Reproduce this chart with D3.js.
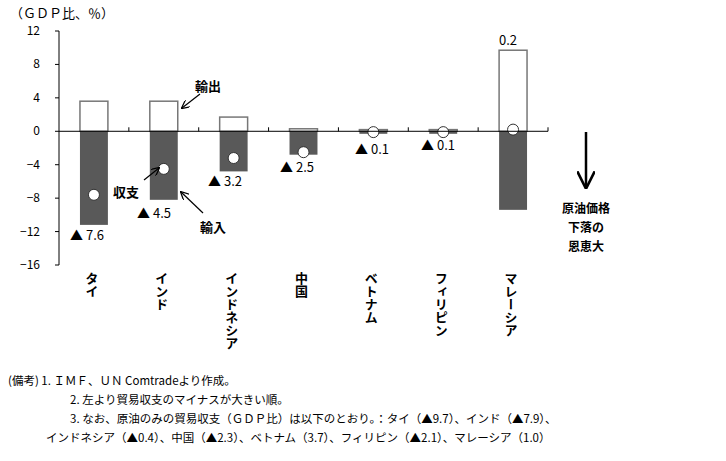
<!DOCTYPE html><html><head><meta charset="utf-8"><script src="https://cdn.jsdelivr.net/npm/d3@7"></script>
<style>body{margin:0;background:#fff}text{font-family:"Noto Sans CJK JP",sans-serif}</style></head><body><svg id="c" width="726" height="461"></svg><script>
const categories=["タイ","インド","インドネシア","中国","ベトナム","フィリピン","マレーシア"];
const exportsV=[3.6,3.6,1.7,0.3,0.2,0.2,9.7];
const importsV=[-11.2,-8.2,-4.8,-2.8,-0.3,-0.3,-9.4];
const balanceV=[-7.6,-4.5,-3.2,-2.5,-0.1,-0.1,0.2];
const balanceLabels=["▲ 7.6","▲ 4.5","▲ 3.2","▲ 2.5","▲ 0.1","▲ 0.1","0.2"];
const yTicks=[12,8,4,0,-4,-8,-12,-16];
const notes=["(備考) 1. ＩＭＦ、ＵＮ Comtradeより作成。","2. 左より貿易収支のマイナスが大きい順。","3. なお、原油のみの貿易収支（ＧＤＰ比）は以下のとおり。：タイ（▲9.7）、インド（▲7.9）、","インドネシア（▲0.4）、中国（▲2.3）、ベトナム（3.7）、フィリピン（▲2.1）、マレーシア（1.0）"];
const svg=d3.select("#c");
const y=d3.scaleLinear().domain([-16,12]).range([265,31]);
const x=d3.scaleBand().domain(categories).range([59,548]).paddingInner(0.6).paddingOuter(0.3);
const bw=x.bandwidth();
svg.append("text").attr("x",10).attr("y",18).attr("font-size",13).text("（ＧＤＰ比、％）");
svg.append("line").attr("x1",59).attr("x2",59).attr("y1",31).attr("y2",265).attr("stroke","#000");
yTicks.forEach(t=>{svg.append("line").attr("x1",55).attr("x2",59).attr("y1",y(t)).attr("y2",y(t)).attr("stroke","#000");
svg.append("text").attr("x",40).attr("y",y(t)+4).attr("text-anchor","end").attr("font-size",12).attr("font-family","Arial").text(t<0?"−"+(-t):t);});
categories.forEach((c,i)=>{const cx=x(c)+bw/2;
svg.append("rect").attr("x",x(c)).attr("width",bw).attr("y",y(exportsV[i])).attr("height",y(0)-y(exportsV[i])).attr("fill","#fff").attr("stroke","#777").attr("stroke-width",1.5);
svg.append("rect").attr("x",x(c)).attr("width",bw).attr("y",y(0)).attr("height",y(importsV[i])-y(0)).attr("fill","#595959");
svg.append("circle").attr("cx",cx).attr("cy",y(balanceV[i])).attr("r",5.5).attr("fill","#fff").attr("stroke","#333");
svg.append("text").attr("x",cx-2).attr("y",272).attr("font-size",13).style("writing-mode","tb").attr("font-weight","bold").text(c);
});
svg.append("line").attr("x1",59).attr("x2",548).attr("y1",y(0)).attr("y2",y(0)).attr("stroke","#000");
const step=(548-59)/7;
for(let i=1;i<=7;i++)svg.append("line").attr("x1",59+step*i).attr("x2",59+step*i).attr("y1",y(0)-4).attr("y2",y(0)).attr("stroke","#000");
const lblPos=[[70,240],[137,218],[208,186],[280,172],[355,154],[421,150],[499,45]];
balanceLabels.forEach((l,i)=>svg.append("text").attr("x",lblPos[i][0]).attr("y",lblPos[i][1]).attr("font-size",13).text(l));
const defs=svg.append("defs");defs.append("marker").attr("id","ar").attr("viewBox","0 0 10 10").attr("refX",9).attr("refY",5).attr("markerWidth",7).attr("markerHeight",7).attr("orient","auto").append("path").attr("d","M0,0L10,5L0,10").attr("fill","none").attr("stroke","#000").attr("stroke-width",1.5);
const arr=(a,b,c,d)=>svg.append("line").attr("x1",a).attr("y1",b).attr("x2",c).attr("y2",d).attr("stroke","#000").attr("stroke-width",1.2).attr("marker-end","url(#ar)");
arr(200,94,182,108);arr(144,180,159,168);arr(203,213,181,192);
svg.append("text").attr("x",195).attr("y",91).attr("font-size",13).attr("font-weight","bold").text("輸出");
svg.append("text").attr("x",113).attr("y",197).attr("font-size",13).attr("font-weight","bold").text("収支");
svg.append("text").attr("x",200).attr("y",232).attr("font-size",13).attr("font-weight","bold").text("輸入");
svg.append("line").attr("x1",586).attr("x2",586).attr("y1",132).attr("y2",187).attr("stroke","#000").attr("stroke-width",2.5).attr("marker-end","url(#ar)");
["原油価格","下落の","恩恵大"].forEach((t,i)=>svg.append("text").attr("x",586).attr("y",213+i*19).attr("text-anchor","middle").attr("font-size",12).attr("font-weight","bold").text(t));
notes.forEach((t,i)=>svg.append("text").attr("x",i==0?8:(i==3?46:70)).attr("y",385+i*19).attr("font-size",11.5).text(t));
</script></body></html>
